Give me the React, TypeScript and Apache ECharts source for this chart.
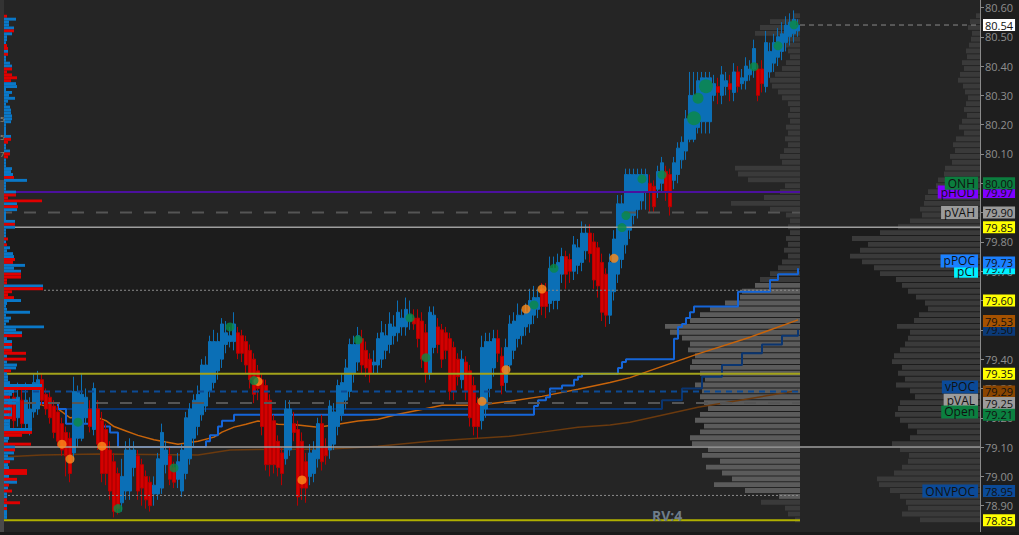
import React, { useEffect, useRef } from "react";
import * as echarts from "echarts";

// ---------- DATA ----------
const CATEGORY_COUNT = 245; // 200 bars + empty space for the profiles
const PRICE_MIN = 78.8;
const PRICE_MAX = 80.6254;
const PRICE_TICK = 0.1;

// [open, close, low, high]
const candles: number[][] = [
  [79.15,79.29,79.12,79.33],[79.28,79.20,79.17,79.32],[79.20,79.26,79.16,79.30],[79.27,79.19,79.16,79.31],
  [79.20,79.27,79.17,79.32],[79.26,79.18,79.15,79.30],[79.18,79.26,79.15,79.32],[79.16,79.23,79.14,79.27],
  [79.22,79.32,79.20,79.35],[79.23,79.33,79.21,79.36],[79.33,79.26,79.24,79.35],[79.28,79.23,79.21,79.30],
  [79.27,79.20,79.18,79.29],[79.24,79.15,79.13,79.26],[79.22,79.12,79.10,79.24],[79.18,79.09,79.07,79.20],
  [79.15,79.07,79.00,79.17],[79.13,79.01,78.98,79.15],[79.08,79.29,79.05,79.34],[79.13,79.29,79.10,79.31],
  [79.13,79.28,79.12,79.35],[79.20,79.27,79.18,79.30],[79.23,79.17,79.15,79.26],[79.16,79.30,79.14,79.32],
  [79.23,79.11,79.09,79.26],[79.19,79.01,78.98,79.22],[79.16,79.01,78.97,79.18],[79.09,78.95,78.92,79.12],
  [79.05,78.88,78.86,79.08],[79.01,78.89,78.87,79.03],[78.91,79.00,78.88,79.06],[78.95,79.09,78.92,79.12],
  [78.95,79.09,78.92,79.13],[79.03,79.09,79.00,79.12],[79.07,78.95,78.92,79.09],[79.04,78.96,78.90,79.06],
  [79.00,78.92,78.89,79.02],[78.98,78.90,78.88,79.00],[78.94,78.97,78.90,79.00],[78.94,79.06,78.92,79.08],
  [78.96,79.15,78.94,79.18],[79.04,79.09,79.01,79.12],[79.07,78.99,78.97,79.10],[79.03,78.98,78.96,79.05],
  [78.99,79.05,78.96,79.08],[78.95,79.09,78.93,79.11],[79.01,79.20,78.99,79.22],[79.06,79.23,79.04,79.25],
  [79.13,79.26,79.10,79.28],[79.17,79.28,79.14,79.31],[79.21,79.38,79.19,79.40],[79.24,79.38,79.22,79.41],
  [79.29,79.46,79.27,79.48],[79.32,79.46,79.30,79.50],[79.36,79.46,79.33,79.49],[79.40,79.52,79.37,79.54],
  [79.45,79.49,79.42,79.53],[79.46,79.48,79.44,79.51],[79.46,79.52,79.43,79.56],[79.49,79.42,79.40,79.51],
  [79.48,79.42,79.39,79.50],[79.46,79.38,79.35,79.48],[79.43,79.33,79.30,79.45],[79.40,79.28,79.25,79.42],
  [79.36,79.30,79.26,79.38],[79.33,79.17,79.14,79.35],[79.31,79.04,79.02,79.33],[79.26,79.04,79.00,79.28],
  [79.19,79.04,79.01,79.21],[79.12,79.03,79.00,79.14],[79.08,79.01,78.97,79.10],[79.06,79.23,79.04,79.26],
  [79.09,79.23,79.07,79.26],[79.18,79.15,79.12,79.22],[79.16,78.93,78.90,79.19],[79.12,78.96,78.92,79.15],
  [79.05,78.96,78.91,79.08],[79.00,79.08,78.97,79.11],[79.01,79.09,78.98,79.12],[79.06,79.18,79.03,79.20],
  [79.18,79.05,79.02,79.21],[79.10,79.07,79.04,79.13],[79.09,79.24,79.06,79.26],[79.11,79.22,79.09,79.25],
  [79.17,79.31,79.14,79.33],[79.21,79.32,79.19,79.35],[79.26,79.37,79.23,79.40],[79.29,79.45,79.27,79.47],
  [79.35,79.45,79.32,79.48],[79.39,79.48,79.36,79.51],[79.47,79.38,79.35,79.50],[79.43,79.37,79.34,79.46],
  [79.40,79.35,79.32,79.42],[79.38,79.39,79.35,79.43],[79.38,79.47,79.35,79.49],[79.40,79.49,79.37,79.53],
  [79.43,79.48,79.40,79.52],[79.45,79.52,79.42,79.56],[79.48,79.51,79.45,79.55],[79.49,79.56,79.46,79.60],
  [79.51,79.54,79.48,79.57],[79.51,79.57,79.48,79.61],[79.53,79.55,79.50,79.60],[79.54,79.52,79.50,79.57],
  [79.54,79.47,79.44,79.57],[79.53,79.40,79.37,79.56],[79.49,79.35,79.32,79.52],[79.35,79.56,79.33,79.58],
  [79.44,79.55,79.42,79.58],[79.51,79.45,79.42,79.54],[79.50,79.40,79.37,79.52],[79.49,79.43,79.40,79.51],
  [79.47,79.29,79.26,79.49],[79.44,79.29,79.26,79.46],[79.40,79.34,79.31,79.42],[79.33,79.40,79.30,79.43],
  [79.39,79.29,79.26,79.41],[79.36,79.20,79.17,79.38],[79.31,79.17,79.14,79.34],[79.25,79.17,79.13,79.27],
  [79.19,79.44,79.16,79.48],[79.23,79.46,79.20,79.49],[79.30,79.46,79.27,79.49],[79.37,79.47,79.34,79.50],
  [79.47,79.42,79.39,79.50],[79.41,79.31,79.28,79.44],[79.32,79.44,79.29,79.47],[79.38,79.52,79.36,79.55],
  [79.43,79.53,79.40,79.56],[79.47,79.55,79.44,79.59],[79.48,79.55,79.45,79.57],[79.51,79.56,79.48,79.59],
  [79.52,79.60,79.49,79.64],[79.55,79.61,79.52,79.65],[79.57,79.61,79.54,79.64],[79.64,79.58,79.55,79.66],
  [79.63,79.58,79.54,79.66],[79.59,79.71,79.56,79.75],[79.60,79.71,79.57,79.75],[79.60,79.73,79.57,79.76],
  [79.69,79.75,79.66,79.78],[79.75,79.69,79.64,79.77],[79.74,79.70,79.66,79.76],[79.70,79.79,79.67,79.82],
  [79.72,79.78,79.69,79.81],[79.73,79.83,79.70,79.87],[79.77,79.83,79.74,79.86],[79.83,79.76,79.73,79.86],
  [79.80,79.67,79.64,79.83],[79.78,79.65,79.61,79.80],[79.73,79.56,79.53,79.76],[79.69,79.55,79.51,79.71],
  [79.55,79.73,79.52,79.76],[79.63,79.81,79.60,79.84],[79.69,79.93,79.66,79.96],[79.74,79.93,79.71,79.96],
  [79.79,80.03,79.76,80.05],[79.84,80.03,79.81,80.05],[79.89,80.03,79.86,80.05],[79.91,80.03,79.88,80.05],
  [79.94,80.03,79.91,80.05],[79.97,80.03,79.91,80.05],[80.00,79.97,79.90,80.03],[79.99,79.92,79.90,80.01],
  [79.98,80.04,79.95,80.06],[80.00,80.07,79.97,80.09],[80.04,79.97,79.94,80.06],[80.03,79.92,79.89,80.05],
  [80.01,80.07,79.98,80.09],[80.03,80.12,80.00,80.14],[80.08,80.14,80.05,80.16],[80.11,80.22,80.08,80.25],
  [80.15,80.30,80.14,80.38],[80.15,80.30,80.14,80.38],[80.19,80.35,80.17,80.38],[80.21,80.36,80.17,80.38],
  [80.21,80.36,80.17,80.38],[80.21,80.36,80.17,80.38],[80.30,80.34,80.28,80.37],[80.33,80.31,80.27,80.36],
  [80.30,80.37,80.27,80.40],[80.33,80.35,80.30,80.38],[80.34,80.32,80.28,80.37],[80.31,80.38,80.28,80.41],
  [80.38,80.33,80.31,80.40],[80.34,80.36,80.32,80.39],[80.35,80.40,80.32,80.43],[80.37,80.39,80.35,80.42],
  [80.39,80.46,80.36,80.49],[80.39,80.30,80.28,80.41],[80.39,80.34,80.31,80.42],[80.33,80.48,80.31,80.52],
  [80.38,80.45,80.36,80.48],[80.41,80.48,80.38,80.51],[80.43,80.50,80.40,80.53],[80.45,80.51,80.42,80.55],
  [80.48,80.54,80.45,80.57],[80.50,80.55,80.47,80.58],[80.51,80.56,80.48,80.59],[80.52,80.54,80.50,80.56],
];

// [bar index, price]
const orangeVwap = [
  [8,79.25],[14,79.23],[17,79.20],[21,79.205],[24,79.20],[26,79.19],[28,79.17],[31,79.155],[34,79.14],
  [38,79.125],[41,79.117],[44,79.11],[49,79.12],[53,79.134],[55,79.151],[58,79.168],[61,79.178],[64,79.189],
  [69,79.178],[74,79.175],[79,79.168],[84,79.178],[89,79.189],[94,79.195],[99,79.212],[104,79.226],
  [110,79.243],[119,79.243],[127,79.256],[135,79.273],[144,79.297],[152,79.32],[157,79.337],[174,79.418],
  [187,79.475],[199,79.534],
];
const brownVwap = [
  [0,79.066],[10,79.073],[24,79.076],[49,79.073],[57,79.09],[69,79.093],[82,79.093],[94,79.103],
  [107,79.12],[127,79.137],[135,79.151],[144,79.168],[152,79.175],[157,79.185],[174,79.236],[199,79.293],
];
const blueStep = [
  [8,79.25],[14,79.23],[16,79.18],[24,79.17],[27,79.15],[29,79.10],[51,79.12],[52,79.14],[54,79.17],
  [55,79.19],[58,79.21],[133,79.24],[134,79.26],[136,79.27],[137,79.30],[140,79.31],[143,79.33],
  [144,79.34],[145,79.35],[154,79.37],[155,79.39],[156,79.40],[168,79.47],[169,79.51],[170,79.52],
  [171,79.54],[172,79.56],[173,79.58],[184,79.63],[192,79.67],[194,79.69],[199,79.71],
];
const navyStep = [
  [12,79.23],[160,79.23],[165,79.26],[170,79.30],[175,79.34],[180,79.38],[185,79.42],[190,79.45],
  [195,79.48],[199,79.50],
];

const orangeDots = [
  [15,79.11],[17,79.059],[25,79.103],[64,79.324],[75,78.988],[120,79.256],[126,79.364],[131,79.571],
  [135,79.639],[153,79.744],
];
const greenDots = [
  [19,79.185],[29,78.89],[43,79.029],[57,79.51],[63,79.327],[89,79.466],[102,79.541],[106,79.405],
  [133,79.585],[138,79.71],[155,79.849],[156,79.89],[160,80.015],[165,80.029],[173,80.222],[174,80.29],
  [176,80.331],[188,80.398],[194,80.469],[198,80.541],
];

// left volume-at-price: one row per 0.01 from the top; + buy (blue), - sell (red)
const leftProfileTop = 80.57;
const leftProfileStep = 0.01;
const leftVol = [
  -3,12,5,5,10,-10,8,3,3,2,-3,-4,4,-4,2,2,6,8,-8,-3,-8,-13,-7,12,13,2,8,5,11,4,
  2,6,7,7,8,8,7,2,2,2,2,7,-7,-4,2,2,6,-6,-4,2,2,2,8,7,9,-10,23,2,2,2,
  12,-12,-4,-38,13,-14,13,2,2,2,11,-11,11,2,2,2,-4,2,-3,6,3,9,10,-11,-9,21,10,17,-17,-17,
  -3,-3,39,-39,-8,-4,-10,17,3,2,3,26,2,7,5,2,40,12,18,-18,3,8,-8,8,-8,-22,3,-22,3,13,
  12,-7,3,4,4,6,38,-38,10,8,-6,15,12,-8,6,-7,5,-8,6,5,6,28,-28,-18,5,4,-27,11,-11,10,
  4,10,-6,4,5,-23,-23,5,-13,13,-5,4,-8,3,3,-3,-16,3,-3,3,3,3,
];

// session and prior-day profiles: one row per 0.02 from the top
const profileTop = 80.57;
const profileStep = 0.02;
const sessionVol = [
  7,30,40,45,22,15,12,10,14,18,25,30,28,22,18,12,10,12,10,14,
  12,15,12,16,20,18,65,62,52,15,20,36,69,30,14,10,12,10,14,12,
  16,12,18,22,30,40,45,58,60,75,90,100,110,135,130,118,110,112,105,108,
  110,100,95,105,98,100,96,92,100,105,96,100,110,108,92,98,80,94,78,68,
  86,55,21,39,15,12,5,
];
const sessionValueArea = [78.93, 79.65];
const priorVol = [
  4,10,12,8,9,11,14,13,18,16,20,22,17,15,12,14,16,13,18,21,
  16,24,27,25,30,28,35,36,42,44,52,55,56,60,58,70,82,100,128,112,
  120,130,118,106,100,84,78,72,64,55,52,61,66,83,70,72,75,80,86,88,
  78,82,75,84,70,65,80,82,85,80,72,63,70,88,80,71,72,78,86,103,
  101,90,80,74,72,78,60,
];

// shaded band (prior value area) [from bar, top price, to bar, bottom price]
const bands = [[0, 79.85, 244, 79.10]];

// horizontal levels
const levelPrices = [79.97, 79.90, 79.85, 79.635, 79.35, 79.29, 79.25, 79.10, 78.935, 78.85, 80.54];
const levelRanges = [[1,199],[0,199],[0,244],[11,199],[0,199],[0,199],[0,199],[0,244],[2,199],[0,199],[200,244]];

// tags
const nameTagTexts = ["pHOD", "ONH", "pVAH", "pCl", "pPOC", "vPOC", "pVAL", "Open", "ONVPOC"];
const nameTagPrices = [79.97, 80.0, 79.9, 79.70, 79.735, 79.305, 79.26, 79.22, 78.95];
const priceTagValues = [79.97, 80.0, 79.9, 79.85, 79.71, 79.73, 79.6, 79.5, 79.53, 79.35, 79.29, 79.25, 79.21, 78.95, 78.85, 80.54];
const leftEdgeTexts = ["5", "5", "7"];
const leftEdgePrices = [80.22, 80.16, 80.10];
const cornerNote = "RV:4";

// ---------- STYLES ----------
const levelStyles: any[] = [
  { stroke: "#4b109e", lineWidth: 2 },
  { stroke: "#555555", lineWidth: 2, lineDash: [12, 12] },
  { stroke: "#9e9e9e", lineWidth: 1.5 },
  { stroke: "#8c8c8c", lineWidth: 1, lineDash: [2, 2] },
  { stroke: "#a3a31a", lineWidth: 2 },
  { stroke: "#0c4a94", lineWidth: 2, lineDash: [6, 5] },
  { stroke: "#555555", lineWidth: 2, lineDash: [12, 12] },
  { stroke: "#9e9e9e", lineWidth: 1.5 },
  { stroke: "#8c8c8c", lineWidth: 1, lineDash: [2, 2] },
  { stroke: "#b0b000", lineWidth: 2 },
  { stroke: "#8a8a8a", lineWidth: 1, lineDash: [5, 4] },
];
const nameTagColors = ["#7f00ff", "#0b7d3e", "#9b9b9b", "#00f0ff", "#1b80ff", "#0b4a98", "#9b9b9b", "#0b8040", "#0b4a98"];
const priceTagColors = [
  "#7f00ff", "#0b7d3e", "#9b9b9b", "#ffff00", "#00f0ff", "#1b80ff", "#ffff00", "#0b3a78", "#a65200",
  "#ffff00", "#8a4500", "#9b9b9b", "#0b8040", "#0b4a98", "#ffff00", "#ffffff",
];
const greenSizes = [9,9,9,9,9,9,9,9,9,9,9,9,9,9,14,11,14,9,9,9];
const FONT = '"Open Sans", "Noto Sans", sans-serif';

export default function App() {
  const ref = useRef<HTMLDivElement>(null);

  useEffect(() => {
    const chart = echarts.init(ref.current as HTMLDivElement, null, { renderer: "svg" });
    const cats = Array.from({ length: CATEGORY_COUNT }, (_, i) => String(i));

    const leftData = leftVol.map((v, k) => [1, +(leftProfileTop - k * leftProfileStep).toFixed(3), v]);
    const sessionData = sessionVol.map((v, k) => [199, +(profileTop - k * profileStep).toFixed(3), v]);
    const priorData = priorVol.map((v, k) => [CATEGORY_COUNT - 1, +(profileTop - k * profileStep).toFixed(3), v]);
    const levelData = levelPrices.map((p, i) => [levelRanges[i][0], p, levelRanges[i][1]]);

    const profileRender = (mode: string, step: number) => (params: any, api: any) => {
      const anchor = api.value(0);
      const price = api.value(1);
      const vol = api.value(2);
      const c = api.coord([anchor, price]);
      const band = api.size([1, 0])[0];
      const h = Math.abs(api.size([0, step])[1]);
      const w = (Math.abs(vol) * band) / 4;
      let x = 0;
      let fill = "#3a3a3a";
      let hh = h;
      if (mode === "left") {
        x = c[0] - band / 2;
        fill = vol >= 0 ? "#0a78c8" : "#e00000";
      } else {
        x = c[0] + band / 2 - w;
        hh = h - 1;
        if (mode === "session" && price >= sessionValueArea[0] && price <= sessionValueArea[1]) fill = "#5b5b5b";
      }
      return {
        type: "rect",
        shape: { x, y: c[1] - h / 2, width: w, height: hh },
        style: { fill },
      };
    };

    const option: any = {
      animation: false,
      backgroundColor: "#1e1e1e",
      grid: { left: 0, right: 39, top: 0, bottom: -3.5, show: true, backgroundColor: "#252525", borderWidth: 0 },
      xAxis: [{ type: "category", data: cats, boundaryGap: true, show: false }],
      yAxis: [
        {
          type: "value",
          position: "right",
          min: PRICE_MIN,
          max: PRICE_MAX,
          interval: PRICE_TICK,
          axisLine: { show: true, lineStyle: { color: "#8a8a8a" } },
          axisTick: { show: true, length: 4, lineStyle: { color: "#8a8a8a" } },
          axisLabel: {
            color: "#8e8e8e",
            fontSize: 11,
            fontFamily: FONT,
            margin: 5,
            showMaxLabel: false,
            showMinLabel: false,
            formatter: (v: number) => v.toFixed(2),
          },
          splitLine: { show: false },
        },
      ],
      series: [
        {
          type: "custom",
          name: "band",
          z: 0,
          silent: true,
          data: bands,
          renderItem: (params: any, api: any) => {
            const a = api.coord([api.value(0), api.value(1)]);
            const b = api.coord([api.value(2), api.value(3)]);
            const band = api.size([1, 0])[0];
            return {
              type: "rect",
              shape: { x: a[0] - band / 2, y: a[1], width: b[0] - a[0] + band, height: b[1] - a[1] },
              style: { fill: "#1c1c1c" },
            };
          },
        },
        { type: "custom", name: "prior", z: 1, silent: true, data: priorData, renderItem: profileRender("prior", profileStep) },
        { type: "custom", name: "session", z: 1, silent: true, data: sessionData, renderItem: profileRender("session", profileStep) },
        { type: "line", name: "vwap2", z: 2, data: brownVwap, symbol: "none", lineStyle: { color: "#6b3a0e", width: 1.5 } },
        { type: "line", name: "vwap", z: 2, data: orangeVwap, symbol: "none", lineStyle: { color: "#c8640a", width: 1.5 } },
        { type: "line", name: "navy", z: 2, data: navyStep, step: "end", symbol: "none", lineStyle: { color: "#0a3570", width: 2 } },
        { type: "line", name: "blue", z: 2, data: blueStep, step: "end", symbol: "none", lineStyle: { color: "#1565d8", width: 2 } },
        {
          type: "candlestick",
          name: "price",
          z: 3,
          barWidth: 3,
          data: candles,
          itemStyle: {
            color: "#0b6fb6",
            color0: "#d40000",
            borderColor: "#0b6fb6",
            borderColor0: "#b80000",
            borderWidth: 1,
          },
        },
        {
          type: "custom",
          name: "levels",
          z: 4,
          silent: true,
          data: levelData,
          renderItem: (params: any, api: any) => {
            const a = api.coord([api.value(0), api.value(1)]);
            const b = api.coord([api.value(2), api.value(1)]);
            const band = api.size([1, 0])[0];
            return {
              type: "line",
              shape: { x1: a[0] - band / 2, y1: a[1], x2: b[0] + band / 2, y2: a[1] },
              style: levelStyles[params.dataIndex],
            };
          },
        },
        {
          type: "scatter",
          name: "orangeDots",
          z: 5,
          data: orangeDots,
          symbol: "circle",
          symbolSize: 9,
          itemStyle: { color: "#ff8c1a" },
        },
        {
          type: "scatter",
          name: "greenDots",
          z: 5,
          data: greenDots,
          symbol: "circle",
          symbolSize: (v: any, p: any) => greenSizes[p.dataIndex],
          itemStyle: { color: "#0b8a45" },
        },
        { type: "custom", name: "left", z: 6, silent: true, data: leftData, renderItem: profileRender("left", leftProfileStep) },
      ],
    };
    chart.setOption(option);

    const yOf = (p: number) => chart.convertToPixel({ yAxisIndex: 0 }, p) as number;
    const xc0 = chart.convertToPixel({ xAxisIndex: 0 }, cats[0]) as number;
    const xc1 = chart.convertToPixel({ xAxisIndex: 0 }, cats[1]) as number;
    const band = xc1 - xc0;
    const axisX = (chart.convertToPixel({ xAxisIndex: 0 }, cats[CATEGORY_COUNT - 1]) as number) + band / 2;

    const g: any[] = [];
    g.push({ type: "rect", z: 90, shape: { x: 0, y: 0, width: 4, height: 180 }, style: { fill: "#333333" } });
    g.push({ type: "rect", z: 90, shape: { x: 0, y: 180, width: 4, height: 355 }, style: { fill: "#4a4a4a" } });
    g.push({ type: "rect", z: 90, shape: { x: 0, y: 532, width: 1019, height: 3 }, style: { fill: "#1a1a1a" } });
    leftEdgeTexts.forEach((t, i) => {
      g.push({
        type: "text", z: 91, x: 0, y: yOf(leftEdgePrices[i]),
        style: { text: t, fill: "#9a9484", font: `8px ${FONT}`, align: "left", verticalAlign: "middle", textAlign: "left", textVerticalAlign: "middle" },
      });
    });
    g.push({
      type: "text", z: 91, x: 652, y: 515,
      style: { text: cornerNote, fill: "#6f7d8a", font: `bold 14px ${FONT}`, align: "left", verticalAlign: "middle", textAlign: "left", textVerticalAlign: "middle" },
    });
    nameTagTexts.forEach((t, i) => {
      g.push({
        type: "text", z: 100, x: axisX - 2, y: yOf(nameTagPrices[i]),
        style: {
          text: t, fill: "#111111", font: `12px ${FONT}`, backgroundColor: nameTagColors[i], padding: [1, 3, 0, 3],
          align: "right", verticalAlign: "middle", textAlign: "right", textVerticalAlign: "middle",
        },
      });
    });
    priceTagValues.forEach((p, i) => {
      g.push({
        type: "text", z: 100, x: axisX + 3, y: yOf(p),
        style: {
          text: p.toFixed(2), fill: "#111111", font: `11px ${FONT}`, backgroundColor: priceTagColors[i], padding: [1, 2, 0, 2],
          align: "left", verticalAlign: "middle", textAlign: "left", textVerticalAlign: "middle",
        },
      });
    });
    chart.setOption({ graphic: g });

    return () => chart.dispose();
  }, []);

  return <div ref={ref} style={{ position: "fixed", left: 0, top: 0, width: 1019, height: 535 }} />;
}
